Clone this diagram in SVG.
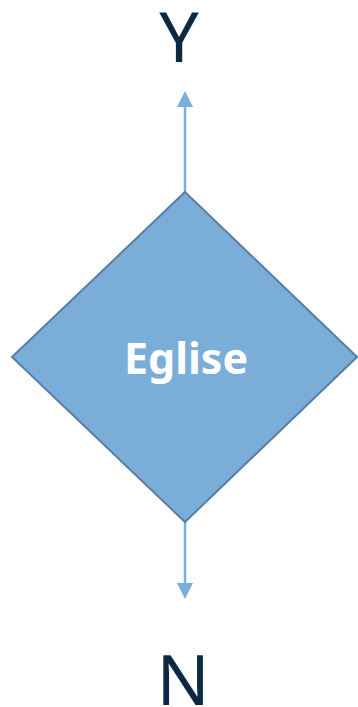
<svg xmlns="http://www.w3.org/2000/svg" width="358" height="707" viewBox="0 0 358 707">
<style>
.lbl{font-family:"Noto Sans","Open Sans",sans-serif;font-size:70px;fill:#0b2942;text-anchor:middle}
.conn{stroke:#7aaedb;stroke-width:2.5;fill:none}
.head{fill:#7aaedb}
.node{fill:#7aaed8;stroke:#5a7ea3;stroke-width:2}
.ntext{font-family:"Noto Sans","Open Sans",sans-serif;font-size:43px;font-weight:bold;fill:#ffffff;text-anchor:middle}
</style>
<g id="connectors">
<line class="conn" x1="185" y1="192" x2="185" y2="100"/>
<path class="head" d="M177,107 L185,91 L193,107 Z"/>
<line class="conn" x1="185" y1="522" x2="185" y2="590"/>
<path class="head" d="M177,583 L185,599 L193,583 Z"/>
</g>
<g id="node-eglise">
<polygon class="node" points="185,192 357,357 185,522 12,357"/>
<text class="ntext" x="186" y="374">Eglise</text>
</g>
<g id="label-y">
<text class="lbl" x="179" y="62">Y</text>
</g>
<g id="label-n">
<text class="lbl" x="183" y="705">N</text>
</g>
</svg>
